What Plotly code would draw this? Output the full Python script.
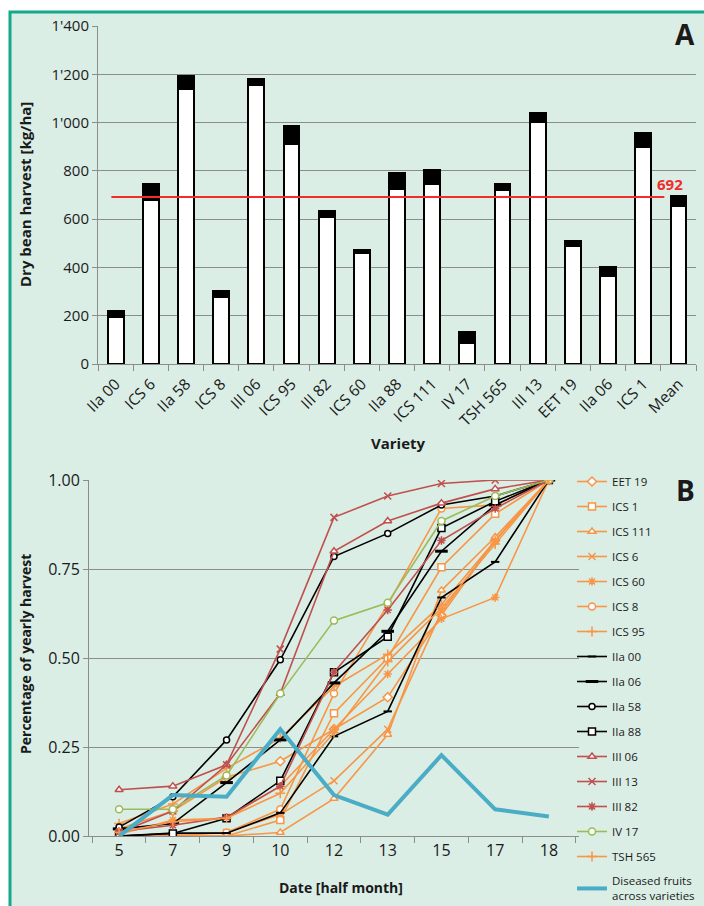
import plotly.graph_objects as go

W, H = 704, 906

# === Panel A: dry bean harvest per variety ===
varieties = ["IIa 00", "ICS 6", "IIa 58", "ICS 8", "III 06", "ICS 95", "III 82", "ICS 60",
             "IIa 88", "ICS 111", "IV 17", "TSH 565", "III 13", "EET 19", "IIa 06", "ICS 1", "Mean"]
harvest_white = [195, 681, 1139, 276, 1157, 910, 609, 461, 725, 744, 89, 719, 1001, 489, 366, 899, 653]
harvest_black = [23, 64, 52, 28, 22, 77, 26, 13, 66, 61, 43, 28, 37, 22, 36, 59, 41]
mean_harvest = 692
a_ticks = [0, 200, 400, 600, 800, 1000, 1200, 1400]
a_ticklabels = ["0", "200", "400", "600", "800", "1'000", "1'200", "1'400"]

# === Panel B: cumulative share of yearly harvest ===
dates = ["5", "7", "9", "10", "12", "13", "15", "17", "18"]
eet19 = [0.02, 0.07, 0.165, 0.21, 0.30, 0.39, 0.62, 0.83, 1.0]
ics1 = [0.0, 0.0, 0.0, 0.045, 0.345, 0.50, 0.755, 0.905, 1.0]
ics111 = [0.0, 0.0, 0.0, 0.01, 0.105, 0.285, 0.69, 0.84, 1.0]
ics6 = [0.0, 0.0, 0.01, 0.06, 0.155, 0.30, 0.63, 0.83, 1.0]
ics60 = [0.005, 0.045, 0.05, 0.14, 0.30, 0.455, 0.61, 0.67, 1.0]
ics8 = [0.0, 0.005, 0.01, 0.075, 0.40, 0.65, 0.92, 0.93, 1.0]
ics95 = [0.035, 0.09, 0.19, 0.275, 0.42, 0.51, 0.65, 0.83, 1.0]
iia00 = [0.0, 0.008, 0.008, 0.065, 0.28, 0.35, 0.67, 0.77, 1.0]
iia06 = [0.02, 0.035, 0.15, 0.27, 0.43, 0.575, 0.80, 0.93, 1.0]
iia58 = [0.025, 0.11, 0.27, 0.495, 0.785, 0.85, 0.93, 0.955, 1.0]
iia88 = [0.0, 0.007, 0.05, 0.155, 0.46, 0.56, 0.865, 0.94, 1.0]
iii06 = [0.13, 0.14, 0.20, 0.40, 0.80, 0.885, 0.935, 0.975, 1.0]
iii13 = [0.01, 0.07, 0.20, 0.525, 0.895, 0.955, 0.99, 1.0, 1.0]
iii82 = [0.013, 0.03, 0.053, 0.14, 0.46, 0.635, 0.83, 0.92, 1.0]
iv17 = [0.075, 0.075, 0.17, 0.40, 0.605, 0.655, 0.885, 0.955, 1.0]
tsh565 = [0.01, 0.04, 0.05, 0.12, 0.29, 0.49, 0.64, 0.82, 1.0]
diseased = [0.0, 0.115, 0.11, 0.30, 0.115, 0.06, 0.227, 0.075, 0.055]
b_ticks = [0, 0.25, 0.5, 0.75, 1.0]

ORANGE, RED, GREEN, BLACK, BLUE = "#f79646", "#c0504d", "#9bbb59", "#000000", "#4bacc6"
BG, FRAME, GRID = "#dbeee6", "#14a88c", "#8c8c8c"
FONT = "Open Sans"

# name, values, colour, symbol, filled (white inside)
series = [
    ("EET 19", eet19, ORANGE, "diamond", True),
    ("ICS 1", ics1, ORANGE, "square", True),
    ("ICS 111", ics111, ORANGE, "triangle-up", True),
    ("ICS 6", ics6, ORANGE, "x-thin", False),
    ("ICS 60", ics60, ORANGE, "asterisk", False),
    ("ICS 8", ics8, ORANGE, "circle", True),
    ("ICS 95", ics95, ORANGE, "cross-thin", False),
    ("IIa 00", iia00, BLACK, "line-ew", False),
    ("IIa 06", iia06, BLACK, "line-ew", False),
    ("IIa 58", iia58, BLACK, "circle", True),
    ("IIa 88", iia88, BLACK, "square", True),
    ("III 06", iii06, RED, "triangle-up", True),
    ("III 13", iii13, RED, "x-thin", False),
    ("III 82", iii82, RED, "asterisk", False),
    ("IV 17", iv17, GREEN, "circle", True),
    ("TSH 565", tsh565, ORANGE, "cross-thin", False),
]

fig = go.Figure()

# bars: white part with black outline, black cap on top
fig.add_trace(go.Bar(
    x=varieties, y=harvest_white, xaxis="x", yaxis="y",
    marker=dict(color="white", line=dict(color="black", width=2)),
    showlegend=False, hoverinfo="x+y",
))
fig.add_trace(go.Bar(
    x=varieties, y=harvest_black, xaxis="x", yaxis="y",
    marker=dict(color="black", line=dict(color="black", width=2)),
    showlegend=False, hoverinfo="x+y",
))

for name, vals, col, sym, filled in series:
    size = 7
    lw = 1.5
    if name == "IIa 00":
        size, lw = 6, 2
    elif name == "IIa 06":
        size, lw = 9, 3
    elif name == "IIa 58":
        size = 6
    fig.add_trace(go.Scatter(
        x=dates, y=vals, name=name, xaxis="x2", yaxis="y2",
        mode="lines+markers", legendgroup=name,
        line=dict(color=col, width=1.6),
        marker=dict(symbol=sym, size=size,
                    color="white" if filled else col,
                    line=dict(color=col, width=lw)),
    ))

fig.add_trace(go.Scatter(
    x=dates, y=diseased, name="Diseased fruits<br>across varieties",
    xaxis="x2", yaxis="y2", mode="lines", legendgroup="diseased",
    line=dict(color=BLUE, width=4),
))


def label(text, px, py, size, color="#1a1a1a", angle=0):
    # text placed by its centre, in pixels from the top-left corner
    return dict(text=text, x=px / W, y=1 - py / H, xref="paper", yref="paper",
                xanchor="center", yanchor="middle", showarrow=False,
                textangle=angle, font=dict(size=size, color=color))


fig.update_layout(
    width=W, height=H,
    margin=dict(l=0, r=0, t=0, b=0, autoexpand=False),
    paper_bgcolor="white",
    plot_bgcolor="rgba(0,0,0,0)",
    font=dict(family=FONT, color="#1a1a1a", size=14),
    barmode="stack",
    bargap=0.55,
    xaxis=dict(
        domain=[98 / W, 696 / W], anchor="y", automargin=False,
        type="category", tickangle=-45, ticklabelstandoff=4,
        tickfont=dict(size=15.5), ticks="outside", tickson="boundaries",
        ticklen=6, tickcolor=GRID, showline=True, linecolor=GRID,
        showgrid=False,
    ),
    yaxis=dict(
        domain=[1 - 364 / H, 1 - 26 / H], anchor="x", automargin=False,
        range=[0, 1400], tickvals=a_ticks, ticktext=a_ticklabels,
        tickfont=dict(size=15), ticks="outside", ticklen=5, tickcolor=GRID,
        showline=True, linecolor=GRID, gridcolor=GRID, gridwidth=1,
        zeroline=False,
    ),
    xaxis2=dict(
        domain=[89 / W, 579 / W], anchor="y2", automargin=False,
        type="category", tickfont=dict(size=16),
        ticks="outside", tickson="boundaries", ticklen=6, tickcolor=GRID,
        showline=True, linecolor=GRID, showgrid=False,
    ),
    yaxis2=dict(
        domain=[1 - 836 / H, 1 - 480 / H], anchor="x2", automargin=False,
        range=[0, 1.0], tickvals=b_ticks, tickformat=".2f",
        tickfont=dict(size=16), ticks="outside", ticklen=5, tickcolor=GRID,
        showline=True, linecolor=GRID, gridcolor=GRID, gridwidth=1,
        zeroline=False,
    ),
    legend=dict(
        x=572 / W, xanchor="left", y=1 - 467 / H, yanchor="top",
        bgcolor="rgba(0,0,0,0)", font=dict(size=11.5),
        tracegroupgap=6, itemwidth=30,
    ),
    shapes=[
        dict(type="rect", xref="paper", yref="paper",
             x0=10 / W, x1=1.05, y0=-0.05, y1=1 - 12 / H,
             line=dict(color=FRAME, width=3), fillcolor=BG, layer="below"),
        dict(type="line", xref="x", yref="y", x0=-0.12, x1=15.6,
             y0=mean_harvest, y1=mean_harvest,
             line=dict(color="#f22b2b", width=2)),
    ],
    annotations=[
        label("<b>A</b>", 685, 34, 28),
        label("<b>B</b>", 685, 490, 28),
        label(f"<b>{mean_harvest}</b>", 670, 184, 15, color="#f22b2b"),
        label("<b>Dry bean harvest [kg/ha]</b>", 25, 195, 15, angle=-90),
        label("<b>Variety</b>", 398, 443, 15),
        label("<b>Percentage of yearly harvest</b>", 25, 654, 14, angle=-90),
        label("<b>Date [half month]</b>", 341, 887, 14),
    ],
)

# the page's default body margin would push the fixed-size figure off the window
fig.write_html("out.html", config={"displayModeBar": False},
               post_script="document.body.style.margin='0';document.body.style.overflow='hidden';")
